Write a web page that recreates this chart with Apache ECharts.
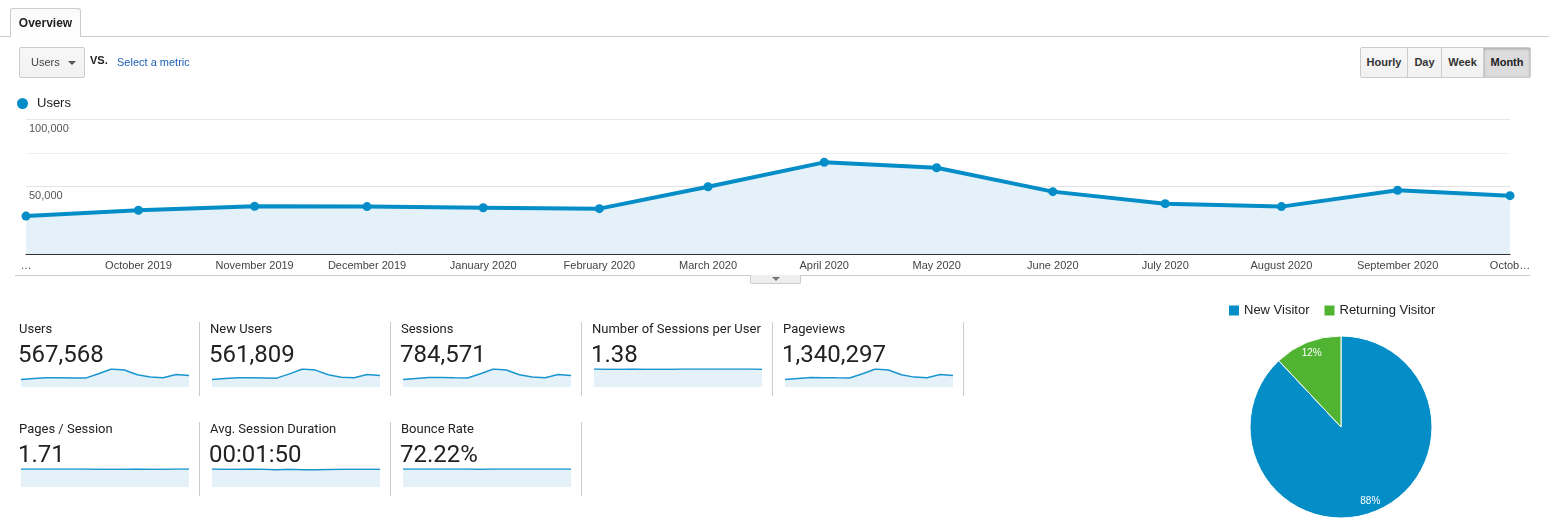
<!DOCTYPE html>
<html>
<head>
<meta charset="utf-8">
<script src="https://cdn.jsdelivr.net/npm/echarts@6/dist/echarts.min.js"></script>
<style>
  html, body { margin: 0; padding: 0; background: #fff; }
  body { width: 1549px; height: 518px; position: relative; overflow: hidden; font-family: "Liberation Sans", Arial, sans-serif; color: #222; }
  #chart { position: absolute; left: 0; top: 0; width: 1549px; height: 518px; }
  .abs { position: absolute; }
  .topline { left: 0; top: 36px; width: 1549px; height: 1px; background: #ccc; }
  .tab { left: 10px; top: 8px; width: 69px; height: 28px; border: 1px solid #ccc; border-bottom: none; border-radius: 3px 3px 0 0;
         background: linear-gradient(#fafafa, #fff); font-weight: bold; font-size: 12px; line-height: 29px; text-align: center; }
  .dropdown { left: 19px; top: 47px; width: 64px; height: 29px; border: 1px solid #ccc; border-radius: 2px; background: linear-gradient(#f7f7f7, #f1f1f1);
              font-size: 11px; color: #444; line-height: 29px; }
  .dropdown span { position: absolute; left: 11px; }
  .dropdown i { position: absolute; left: 48px; top: 13px; width: 0; height: 0; border-left: 4px solid transparent; border-right: 4px solid transparent; border-top: 4px solid #555; }
  .vs { left: 90px; top: 54px; font-size: 11px; font-weight: bold; }
  .sel { left: 117px; top: 56px; font-size: 11px; color: #1c5fb4; }
  .btns { left: 1360px; top: 47px; height: 29px; border: 1px solid #ccc; border-radius: 2px; display: flex; overflow: hidden; }
  .btns div { height: 29px; line-height: 29px; font-size: 11px; font-weight: bold; color: #333; text-align: center; background: linear-gradient(#f7f7f7, #f1f1f1); border-right: 1px solid #ccc; }
  .btns div:last-child { border-right: none; background: #dcdcdc; box-shadow: inset 0 1px 3px rgba(0,0,0,0.25); color: #222; }
  .chartline { left: 15px; top: 275px; width: 1515px; height: 1px; background: #ccc; }
  .handle { left: 750px; top: 275px; width: 49px; height: 8px; border: 1px solid #ccc; border-top: none; background: #eee; border-radius: 0 0 2px 2px; }
  .handle i { position: absolute; left: 21px; top: 2px; width: 0; height: 0; border-left: 4px solid transparent; border-right: 4px solid transparent; border-top: 4px solid #777; }
  .tile { font-family: Roboto, "Liberation Sans", sans-serif; }
  .tile .lab { position: absolute; left: 0; top: 0; font-size: 13px; color: #222; white-space: nowrap; }
  .tile .val { position: absolute; left: -1px; top: 19px; font-size: 24px; color: #222; white-space: nowrap; }
  .sep { width: 1px; background: #ccc; }
</style>
</head>
<body>
<div id="chart"></div>

<div class="abs topline"></div>
<div class="abs tab">Overview</div>
<div class="abs dropdown"><span>Users</span><i></i></div>
<div class="abs vs">VS.</div>
<div class="abs sel">Select a metric</div>
<div class="abs btns">
  <div style="width:46px">Hourly</div>
  <div style="width:33px">Day</div>
  <div style="width:41px">Week</div>
  <div style="width:46px">Month</div>
</div>
<div class="abs chartline"></div>
<div class="abs handle"><i></i></div>
<div id="tiles"></div>

<script>
// monthly points
var months = ['2019-09-01', '2019-10-01', '2019-11-01', '2019-12-01', '2020-01-01', '2020-02-01', '2020-03-01',
              '2020-04-01', '2020-05-01', '2020-06-01', '2020-07-01', '2020-08-01', '2020-09-01', '2020-10-01'];
var monthLabels = ['…', 'October 2019', 'November 2019', 'December 2019', 'January 2020', 'February 2020', 'March 2020',
                   'April 2020', 'May 2020', 'June 2020', 'July 2020', 'August 2020', 'September 2020', 'Octob…'];
var users = [28100, 32400, 35300, 35100, 34300, 33600, 49800, 67900, 63900, 46200, 37300, 35100, 47200, 43200];
var yTicks = [50000, 100000];

// sparklines
var newUsers = [27800, 31900, 34800, 34600, 33800, 33100, 49200, 67300, 63200, 45600, 36800, 34600, 46600, 42700];
var sessions = [37900, 43400, 47600, 47300, 46100, 45200, 66500, 90800, 85600, 61800, 49900, 47000, 63100, 57800];
var pageviews = [64800, 74200, 81400, 80800, 78900, 77300, 113700, 155300, 146400, 105700, 85300, 80400, 107900, 98800];
var sessionsPerUser = [1.35, 1.34, 1.34, 1.35, 1.34, 1.34, 1.34, 1.35, 1.35, 1.35, 1.35, 1.35, 1.35, 1.33];
var pagesPerSession = [1.72, 1.71, 1.71, 1.72, 1.71, 1.71, 1.70, 1.70, 1.70, 1.71, 1.70, 1.70, 1.71, 1.71];
var avgDuration = [112, 111, 110, 112, 111, 108, 110, 108, 108, 109, 110, 110, 110, 110];
var bounceRate = [72.5, 72.3, 72.2, 72.4, 72.3, 72.1, 71.9, 72.0, 72.1, 72.2, 72.3, 72.3, 72.4, 72.4];

var metricNames = ['Users', 'New Users', 'Sessions', 'Number of Sessions per User', 'Pageviews',
                   'Pages / Session', 'Avg. Session Duration', 'Bounce Rate'];
var metricValues = ['567,568', '561,809', '784,571', '1.38', '1,340,297', '1.71', '00:01:50', '72.22%'];
var metricSeries = [users, newUsers, sessions, sessionsPerUser, pageviews, pagesPerSession, avgDuration, bounceRate];

// pie
var visitorTypes = ['New Visitor', 'Returning Visitor'];
var visitorShare = [88, 12];

var blue = '#058dc7', green = '#50b432', areaBlue = '#e4f1f8';

function ts(s) {
    var p = s.split('-');
    return Date.UTC(+p[0], +p[1] - 1, +p[2]);
}
var monthTs = months.map(ts);
var labelByTs = {};
for (var i = 0; i < monthTs.length; i++) labelByTs[monthTs[i]] = monthLabels[i];

// tile text (html)
var tilesHtml = '';
for (var k = 0; k < metricNames.length; k++) {
    var col = k < 5 ? k : k - 5, row = k < 5 ? 0 : 1;
    var x = 19 + col * 191, y = 321 + row * 100;
    tilesHtml += '<div class="abs tile" style="left:' + x + 'px;top:' + y + 'px">' +
        '<div class="lab">' + metricNames[k] + '</div><div class="val">' + metricValues[k] + '</div></div>';
    if (!(row === 1 && col > 2)) {
        tilesHtml += '<div class="abs sep" style="left:' + (x + 180) + 'px;top:' + (y + 1) + 'px;height:74px"></div>';
    }
}
document.getElementById('tiles').innerHTML = tilesHtml;

var grids = [{ left: 26, top: 119, width: 1484, height: 135 }];
// x is a plain value axis in ms so month lengths keep their real spacing
var xAxes = [{
    type: 'value',
    gridIndex: 0,
    min: monthTs[0],
    max: monthTs[monthTs.length - 1],
    axisLine: { show: true, onZero: false, lineStyle: { color: '#333', width: 1 } },
    axisTick: { show: false },
    splitLine: { show: false },
    axisLabel: {
        customValues: monthTs,
        hideOverlap: false,
        showMinLabel: true,
        showMaxLabel: true,
        margin: 6,
        fontSize: 11,
        color: '#444',
        fontFamily: 'Liberation Sans',
        formatter: function (v) { return labelByTs[v] || ''; }
    }
}];
var yAxes = [{
    type: 'value',
    gridIndex: 0,
    min: 0,
    max: 100000,
    interval: 25000,
    axisLine: { show: false },
    axisTick: { show: false },
    splitLine: { lineStyle: { color: ['#ffffff', '#f0f0f0', '#e3e3e3', '#f0f0f0', '#e8e8e8'] } },
    axisLabel: {
        inside: true,
        margin: 3,
        verticalAlign: 'top',
        padding: [4, 0, 0, 0],
        fontSize: 11,
        color: '#555',
        fontFamily: 'Liberation Sans',
        formatter: function (v) { return yTicks.indexOf(v) >= 0 ? echarts.format.addCommas(v) : ''; }
    }
}];
var series = [{
    name: 'Users',
    type: 'line',
    xAxisIndex: 0,
    yAxisIndex: 0,
    data: monthTs.map(function (t, i) { return [t, users[i]]; }),
    symbol: 'circle',
    symbolSize: 9,
    itemStyle: { color: blue },
    lineStyle: { color: blue, width: 4 },
    areaStyle: { color: areaBlue, opacity: 1 },
    z: 3
}];

for (var s = 0; s < metricSeries.length; s++) {
    var c = s < 5 ? s : s - 5, r = s < 5 ? 0 : 1;
    grids.push({ left: 21 + c * 191, top: 369 + r * 100, width: 168, height: 18 });
    xAxes.push({ type: 'category', gridIndex: s + 1, boundaryGap: false, show: false, data: months });
    yAxes.push({ type: 'value', gridIndex: s + 1, show: false, min: 0, max: function (v) { return v.max; } });
    series.push({
        name: metricNames[s] + ' trend',
        type: 'line',
        xAxisIndex: s + 1,
        yAxisIndex: s + 1,
        data: metricSeries[s],
        showSymbol: false,
        silent: true,
        lineStyle: { color: '#1a95d0', width: 1.5 },
        areaStyle: { color: areaBlue, opacity: 1 }
    });
}

var pieData = visitorTypes.map(function (n, i) { return { name: n, value: visitorShare[i] }; });
series.push({
    name: 'Visitors',
    type: 'pie',
    center: [1341, 427],
    radius: 91,
    startAngle: 90,
    clockwise: true,
    data: pieData,
    label: { show: false },
    itemStyle: { borderColor: '#fff', borderWidth: 1 },
    emphasis: { disabled: true }
});
// label ring so percentages sit near the rim
series.push({
    name: 'Visitor labels',
    type: 'pie',
    center: [1341, 427],
    radius: [62, 91],
    startAngle: 90,
    clockwise: true,
    silent: true,
    percentPrecision: 0,
    data: pieData,
    itemStyle: { color: 'rgba(0,0,0,0)' },
    label: { show: true, position: 'inside', formatter: '{d}%', color: '#fff', fontSize: 10, fontFamily: 'Liberation Sans' },
    emphasis: { disabled: true }
});

var chart = echarts.init(document.getElementById('chart'));
chart.setOption({
    animation: false,
    color: [blue, green],
    legend: [{
        data: ['Users'],
        left: 12,
        top: 92,
        icon: 'circle',
        itemWidth: 11,
        itemHeight: 11,
        itemGap: 6,
        textStyle: { fontSize: 13, color: '#222', fontFamily: 'Liberation Sans', padding: [0, 0, 0, 4] },
        selectedMode: false
    }, {
        data: visitorTypes,
        left: 1224,
        top: 299,
        icon: 'rect',
        itemWidth: 10,
        itemHeight: 10,
        itemGap: 15,
        itemStyle: { borderWidth: 0 },
        textStyle: { fontSize: 13, color: '#222', fontFamily: 'Liberation Sans' },
        selectedMode: false
    }],
    grid: grids,
    xAxis: xAxes,
    yAxis: yAxes,
    series: series
});
window.addEventListener('resize', chart.resize);
</script>
</body>
</html>
